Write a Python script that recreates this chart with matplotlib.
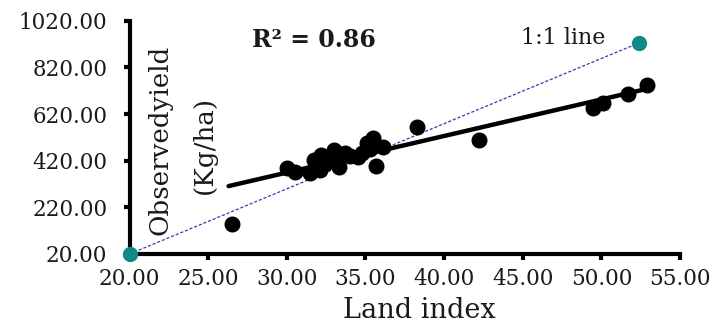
import matplotlib
matplotlib.use("Agg")
import matplotlib.pyplot as plt

# Observed data (Land index vs Observed yield)
land_index = [26.5, 30.0, 30.5, 31.5, 31.7, 32.1, 32.2, 32.5, 32.8, 33.0, 33.3,
              33.2, 33.7, 34.0, 34.5, 34.8, 35.1, 35.3, 35.5, 35.7, 36.1, 38.3,
              42.2, 49.5, 50.1, 51.7, 52.9]
observed_yield = [148, 387, 373, 366, 423, 380, 444, 410, 440, 466, 392,
                  425, 452, 440, 437, 455, 494, 470, 516, 397, 477, 566,
                  509, 647, 666, 704, 744]

# Linear trendline endpoints
trend_x = [26.3, 52.9]
trend_y = [311, 728]

# 1:1 line endpoints
one_to_one_x = [20.0, 52.4]
one_to_one_y = [20.0, 925.0]

r2_text = "R² = 0.86"
xticks = [20, 25, 30, 35, 40, 45, 50, 55]
yticks = [20, 220, 420, 620, 820, 1020]

W, H = 715, 324
fig = plt.figure(figsize=(W / 100, H / 100), dpi=100)
ax = fig.add_axes([129.5 / W, 1 - 254 / H, (680 - 129.5) / W, (254 - 20.7) / H])

serif = "DejaVu Serif"
tc = "#1a1a1a"

ax.plot(one_to_one_x, one_to_one_y, linestyle=(0, (2.5, 1.5)), color="#3a3ab0",
        linewidth=0.9, zorder=2)
ax.plot(one_to_one_x, one_to_one_y, linestyle="none", marker="o", markersize=10,
        color="#0f8a86", clip_on=False, zorder=5)
ax.plot(land_index, observed_yield, linestyle="none", marker="o", markersize=10.5,
        color="black", zorder=3, clip_on=False)
ax.plot(trend_x, trend_y, color="black", linewidth=3.2, solid_capstyle="round", zorder=4)

ax.set_xlim(20, 55)
ax.set_ylim(20, 1020)
ax.set_xticks(xticks)
ax.set_yticks(yticks)
ax.set_xticklabels([f"{v:.2f}" for v in xticks], fontfamily=serif, fontsize=15.5, color=tc)
ax.set_yticklabels([f"{v:.2f}" for v in yticks], fontfamily=serif, fontsize=15.5, color=tc)

for side in ["top", "right"]:
    ax.spines[side].set_visible(False)
for side in ["left", "bottom"]:
    ax.spines[side].set_linewidth(3)
    ax.spines[side].set_color("black")
ax.tick_params(axis="both", direction="out", length=4, width=3, color="black")
ax.tick_params(axis="y", pad=12)
ax.tick_params(axis="x", pad=6)

fig.text(160 / W, 1 - 140 / H, "Observedyield", rotation=90, ha="center", va="center",
         fontfamily=serif, fontsize=18.8, color=tc)
fig.text(204 / W, 1 - 145 / H, "(Kg/ha)", rotation=90, ha="center", va="center",
         fontfamily=serif, fontsize=18.8, color=tc)

fig.text(419 / W, 0.5 / H, "Land index", ha="center", va="bottom",
         fontfamily=serif, fontsize=19.5, color=tc)

fig.text(314 / W, 1 - 40 / H, r2_text, ha="center", va="center",
         fontfamily=serif, fontsize=17, fontweight="bold", color=tc)
fig.text(563 / W, 1 - 38 / H, "1:1 line", ha="center", va="center",
         fontfamily=serif, fontsize=16, color=tc)

fig.savefig("out.png", dpi=100)
